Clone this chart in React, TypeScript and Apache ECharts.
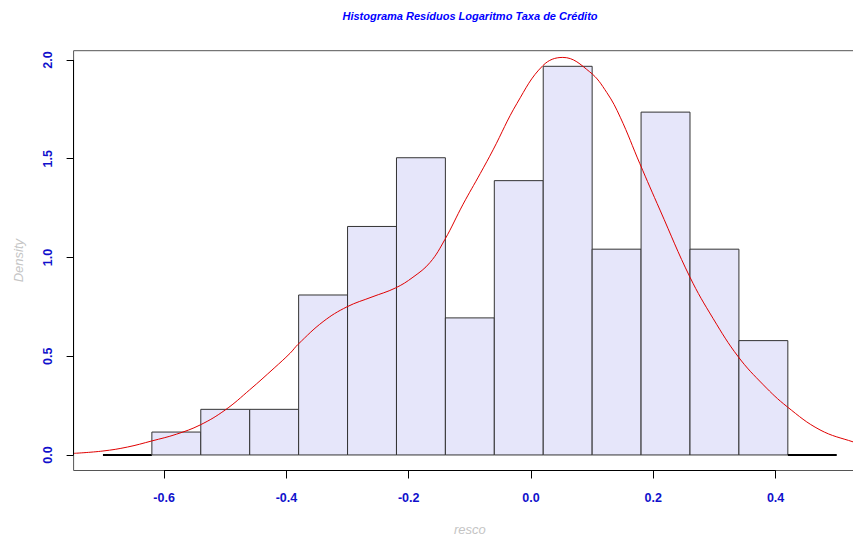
import React, { useEffect, useRef } from "react";
import * as echarts from "echarts";

const TITLE = "Histograma Resíduos Logaritmo Taxa de Crédito";
const X_NAME = "resco";
const Y_NAME = "Density";

const breaks = [-0.7, -0.62, -0.54, -0.46, -0.38, -0.3, -0.22, -0.14, -0.06, 0.02, 0.1, 0.18, 0.26, 0.34, 0.42, 0.5];
const densities = [0, 0.116, 0.231, 0.231, 0.81, 1.157, 1.505, 0.694, 1.389, 1.968, 1.042, 1.736, 1.042, 0.579, 0];

const curveX = [-0.748, -0.7, -0.66, -0.62, -0.58, -0.541, -0.5, -0.46, -0.42, -0.394, -0.381, -0.34, -0.301, -0.26, -0.222, -0.193, -0.165, -0.141, -0.111, -0.083, -0.062, -0.023, 0.0196, 0.052, 0.096, 0.124, 0.146, 0.178, 0.211, 0.26, 0.298, 0.339, 0.38, 0.419, 0.4726, 0.527, 0.548];
const curveY = [0.008, 0.02, 0.04, 0.071, 0.105, 0.152, 0.228, 0.33, 0.44, 0.515, 0.56, 0.675, 0.75, 0.8, 0.845, 0.9, 0.975, 1.09, 1.27, 1.425, 1.545, 1.78, 1.972, 2.013, 1.94, 1.835, 1.71, 1.475, 1.24, 0.9, 0.69, 0.497, 0.355, 0.244, 0.127, 0.066, 0.05];

const xTicks = [-0.6, -0.4, -0.2, 0, 0.2, 0.4];
const yTicks = [0, 0.5, 1, 1.5, 2];

const X_MIN = -0.748;
const X_MAX = 0.548;
const Y_MIN = -0.0787;
const Y_MAX = 2.047;

export default function App() {
  const ref = useRef<HTMLDivElement>(null);
  useEffect(() => {
    if (!ref.current) return;
    const chart = echarts.init(ref.current, null, { renderer: "svg" });
    const barData = densities.map((d, i) => [breaks[i], breaks[i + 1], d]);
    const lineData = curveX.map((x, i) => [x, curveY[i]]);
    const labelColor = "#1010CC";
    chart.setOption({
      animation: false,
      backgroundColor: "#ffffff",
      grid: {
        left: 73.6,
        top: 50.7,
        width: 792.5,
        height: 419.8,
        outerBoundsMode: "none",
        containLabel: false,
        show: true,
        borderColor: "#555555",
        borderWidth: 1,
        backgroundColor: "transparent",
      },
      graphic: [
        {
          type: "text",
          x: 470,
          y: 16,
          style: {
            text: TITLE,
            fill: "#0000FF",
            font: "italic bold 11px 'Liberation Sans', Arial, sans-serif",
            textAlign: "center",
            textVerticalAlign: "middle",
          },
        },
      ],
      xAxis: {
        type: "value",
        min: X_MIN,
        max: X_MAX,
        name: X_NAME,
        nameLocation: "middle",
        nameGap: 52,
        nameTextStyle: {
          color: "#C4C4C4",
          fontStyle: "italic",
          fontSize: 13,
          fontFamily: "'Liberation Sans', Arial, sans-serif",
        },
        axisLine: { show: false, onZero: false },
        splitLine: { show: false },
        axisTick: { show: true, length: 8, customValues: xTicks, lineStyle: { color: "#000" } },
        axisLabel: {
          customValues: xTicks,
          formatter: (v: number) => v.toFixed(1),
          color: labelColor,
          fontSize: 12.5,
          fontWeight: "bold",
          fontFamily: "'Liberation Sans', Arial, sans-serif",
          margin: 21,
        },
      },
      yAxis: {
        type: "value",
        min: Y_MIN,
        max: Y_MAX,
        name: Y_NAME,
        nameLocation: "middle",
        nameGap: 49,
        nameTextStyle: {
          color: "#C4C4C4",
          fontStyle: "italic",
          fontSize: 13,
          fontFamily: "'Liberation Sans', Arial, sans-serif",
        },
        axisLine: { show: false, onZero: false },
        splitLine: { show: false },
        axisTick: { show: true, length: 7, customValues: yTicks, lineStyle: { color: "#000" } },
        axisLabel: {
          customValues: yTicks,
          formatter: (v: number) => v.toFixed(1),
          rotate: 90,
          color: labelColor,
          fontSize: 12.5,
          fontWeight: "bold",
          fontFamily: "'Liberation Sans', Arial, sans-serif",
          margin: 19,
        },
      },
      series: [
        {
          type: "custom",
          data: barData,
          encode: { x: [0, 1], y: 2 },
          renderItem: (params: any, api: any) => {
            const x0 = api.value(0);
            const x1 = api.value(1);
            const h = api.value(2);
            const p0 = api.coord([x0, h]);
            const p1 = api.coord([x1, 0]);
            if (h === 0) {
              return {
                type: "line",
                shape: { x1: p0[0], y1: p1[1], x2: p1[0], y2: p1[1] },
                style: { stroke: "#000000", lineWidth: 2 },
              };
            }
            return {
              type: "rect",
              shape: { x: p0[0], y: p0[1], width: p1[0] - p0[0], height: p1[1] - p0[1] },
              style: { fill: "#E6E6FA", stroke: "#333333", lineWidth: 1 },
            };
          },
        },
        {
          type: "line",
          data: lineData,
          smooth: 0.4,
          showSymbol: false,
          symbol: "none",
          clip: false,
          lineStyle: { color: "#E00000", width: 1 },
          markLine: {
            silent: true,
            symbol: "none",
            label: { show: false },
            lineStyle: { color: "#000000", width: 1, type: "solid" },
            data: [
              [{ coord: [xTicks[0], Y_MIN] }, { coord: [xTicks[xTicks.length - 1], Y_MIN] }],
              [{ coord: [X_MIN, yTicks[0]] }, { coord: [X_MIN, yTicks[yTicks.length - 1]] }],
            ],
          },
        },
      ],
    });
    return () => chart.dispose();
  }, []);
  return (
    <div
      ref={ref}
      style={{ position: "fixed", left: 0, top: 0, width: 853, height: 537, background: "#fff" }}
    />
  );
}
